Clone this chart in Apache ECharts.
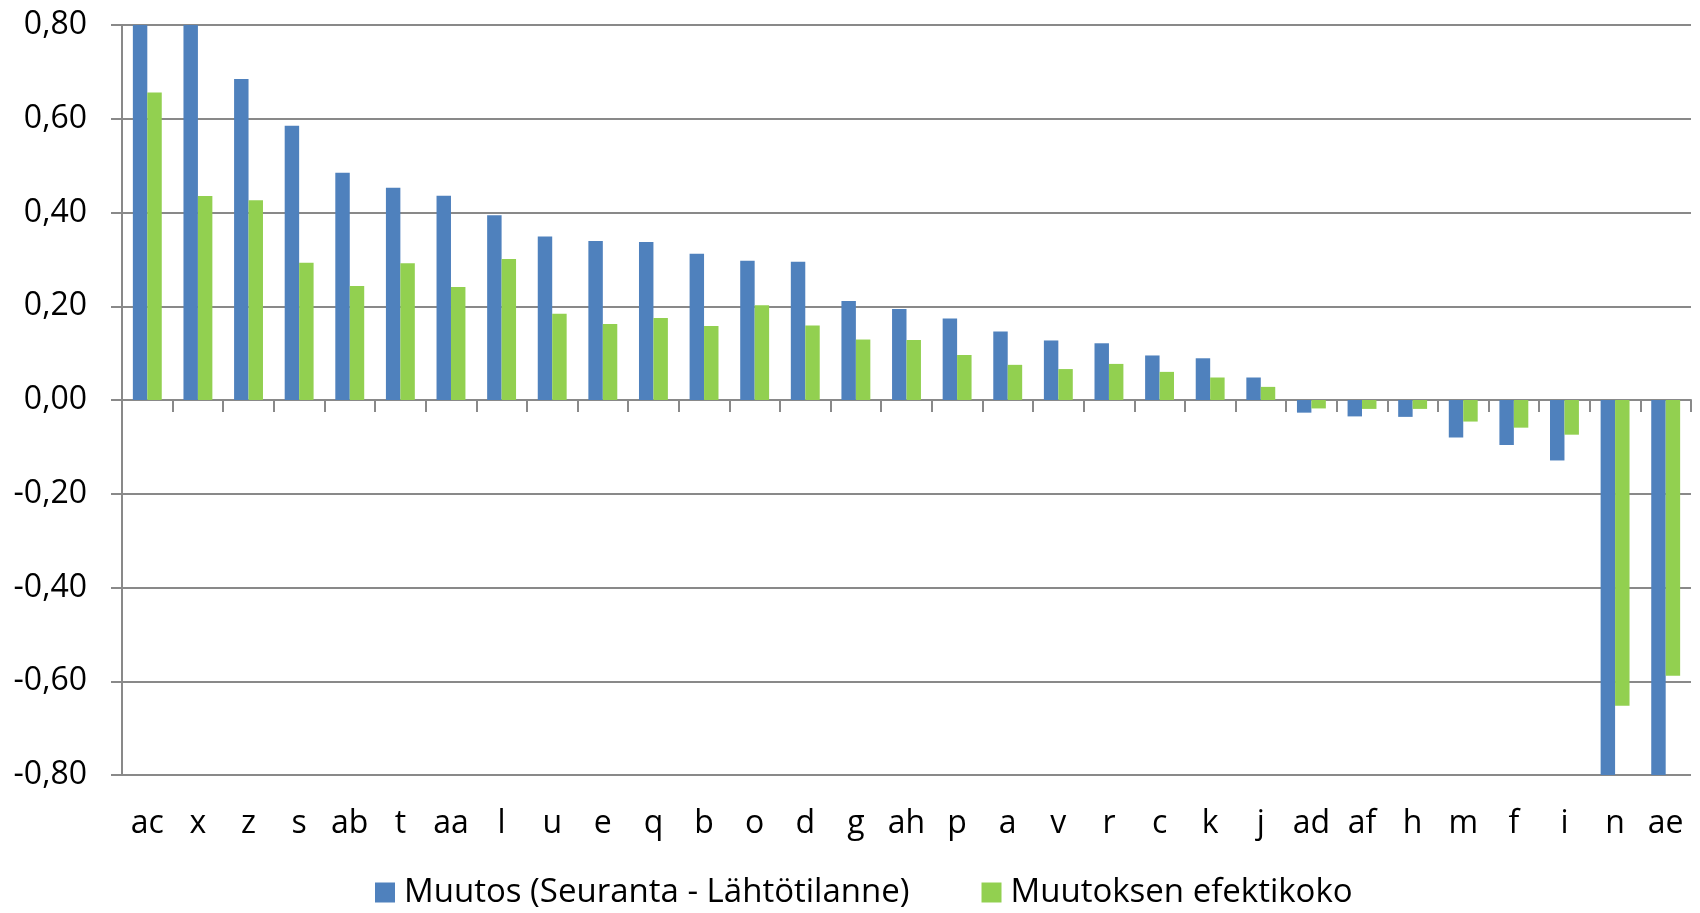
<!DOCTYPE html>
<html>
<head>
<meta charset="utf-8">
<title>Muutos</title>
<script src="https://cdn.jsdelivr.net/npm/echarts@6/dist/echarts.min.js"></script>
<style>
html, body { margin: 0; padding: 0; background: #fff; }
#main { width: 1700px; height: 913px; }
</style>
</head>
<body>
<div id="main"></div>
<script>
// luokat
var categories = ['ac', 'x', 'z', 's', 'ab', 't', 'aa', 'l', 'u', 'e', 'q', 'b', 'o', 'd', 'g', 'ah',
	'p', 'a', 'v', 'r', 'c', 'k', 'j', 'ad', 'af', 'h', 'm', 'f', 'i', 'n', 'ae'];

// Muutos (Seuranta - Lähtötilanne)
var muutos = [0.92, 0.86, 0.685, 0.585, 0.485, 0.453, 0.436, 0.394, 0.349, 0.339, 0.337, 0.312, 0.297, 0.295, 0.211, 0.194,
	0.174, 0.146, 0.127, 0.121, 0.095, 0.089, 0.048, -0.027, -0.035, -0.036, -0.080, -0.096, -0.129, -0.88, -0.86];

// Muutoksen efektikoko
var efektikoko = [0.656, 0.435, 0.426, 0.293, 0.243, 0.292, 0.241, 0.301, 0.184, 0.162, 0.175, 0.158, 0.202, 0.159, 0.129, 0.128,
	0.096, 0.075, 0.066, 0.077, 0.060, 0.048, 0.028, -0.018, -0.019, -0.019, -0.046, -0.059, -0.074, -0.652, -0.588];

var seriesNames = ['Muutos (Seuranta - Lähtötilanne)', 'Muutoksen efektikoko'];

var font = 'Open Sans';
var gray = '#898989';

var myChart = echarts.init(document.getElementById('main'));

myChart.setOption({
	animation : false,
	color : [ '#4F81BD', '#92D050' ],
	grid : {
		left : 122,
		right : 9,
		top : 25,
		bottom : 138
	},
	legend : {
		data : seriesNames,
		left : 370,
		top : 871,
		itemWidth : 20,
		itemHeight : 20,
		itemGap : 72,
		icon : 'rect',
		textStyle : {
			fontFamily : font,
			fontSize : 33,
			color : '#000',
			padding : [ 0, 0, 0, 4 ]
		}
	},
	xAxis : [ {
		// akseli nollakohdassa, ei tekstejä
		type : 'category',
		data : categories,
		axisLine : { onZero : true, lineStyle : { color : gray, width : 2 } },
		axisTick : { show : true, length : 12, interval : 0, lineStyle : { color : gray, width : 2 } },
		axisLabel : { show : false }
	}, {
		// tekstit alareunassa
		type : 'category',
		data : categories,
		position : 'bottom',
		axisLine : { show : false, onZero : false },
		axisTick : { show : false },
		axisLabel : {
			interval : 0,
			margin : 33,
			fontFamily : font,
			fontSize : 32,
			color : '#000'
		}
	} ],
	yAxis : {
		type : 'value',
		min : -0.8,
		max : 0.8,
		interval : 0.2,
		axisLine : { show : true, lineStyle : { color : gray, width : 2 } },
		axisTick : { show : true, length : 11, lineStyle : { color : gray, width : 2 } },
		splitLine : { lineStyle : { color : gray, width : 2 } },
		axisLabel : {
			margin : 35,
			fontFamily : font,
			fontSize : 32,
			color : '#000',
			formatter : function(v) {
				return v.toFixed(2).replace('.', ',');
			}
		}
	},
	series : [ {
		name : seriesNames[0],
		type : 'bar',
		xAxisIndex : 0,
		data : muutos,
		barGap : '0%',
		barCategoryGap : '42.9%'
	}, {
		name : seriesNames[1],
		type : 'bar',
		xAxisIndex : 0,
		data : efektikoko,
		barGap : '0%',
		barCategoryGap : '42.9%'
	} ]
});
</script>
</body>
</html>
